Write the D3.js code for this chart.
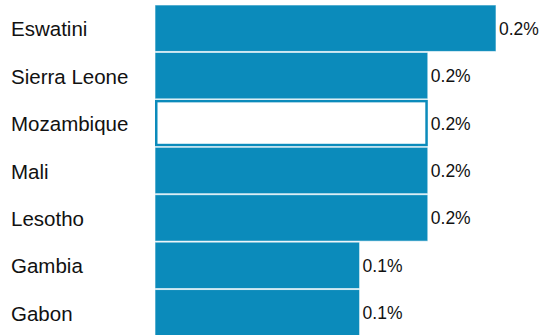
<!DOCTYPE html>
<html>
<head>
<meta charset="utf-8">
<script src="https://cdn.jsdelivr.net/npm/d3@7"></script>
<style>
  html, body { margin: 0; padding: 0; background: #fff; }
  svg { display: block; }
</style>
</head>
<body>
<svg id="chart" width="542" height="335"></svg>
<script>
const categories = ["Eswatini", "Sierra Leone", "Mozambique", "Mali", "Lesotho", "Gambia", "Gabon"];
const values = [0.25, 0.2, 0.2, 0.2, 0.2, 0.15, 0.15];
const valueLabels = ["0.2%", "0.2%", "0.2%", "0.2%", "0.2%", "0.1%", "0.1%"];
const highlighted = ["Mozambique"];

const W = 542, H = 335;
const svg = d3.select("#chart");
const blue = "#0b8bbb";

const x = d3.scaleLinear().domain([0, 0.25]).range([155, 496]);
const y = d3.scaleBand().domain(categories).range([5, 336]).paddingInner(0.021).paddingOuter(0);

const rows = categories.map((c, i) => ({ c, v: values[i], lab: valueLabels[i], hi: highlighted.includes(c) }));

const g = svg.append("g");

g.selectAll("rect.bar").data(rows).join("rect")
  .attr("class", "bar")
  .attr("x", d => d.hi ? x(0) + 1.25 : x(0))
  .attr("y", d => d.hi ? y(d.c) + 1.25 : y(d.c))
  .attr("width", d => d.hi ? x(d.v) - x(0) - 2.5 : x(d.v) - x(0))
  .attr("height", d => d.hi ? y.bandwidth() - 2.5 : y.bandwidth())
  .attr("fill", d => d.hi ? "#ffffff" : blue)
  .attr("stroke", d => d.hi ? blue : "rgba(255,255,255,0.6)")
  .attr("stroke-width", d => d.hi ? 2.5 : 1);

g.selectAll("text.cat").data(rows).join("text")
  .attr("class", "cat")
  .attr("x", 11)
  .attr("y", d => y(d.c) + y.bandwidth() / 2 + 0.5)
  .attr("dominant-baseline", "central")
  .attr("font-family", "'Liberation Sans', Arial, sans-serif")
  .attr("font-size", 20.5)
  .attr("fill", "#111")
  .text(d => d.c);

g.selectAll("text.val").data(rows).join("text")
  .attr("class", "val")
  .attr("x", d => x(d.v) + 3)
  .attr("y", d => y(d.c) + y.bandwidth() / 2 + 0.5)
  .attr("dominant-baseline", "central")
  .attr("font-family", "'Liberation Sans', Arial, sans-serif")
  .attr("font-size", 17.5)
  .attr("fill", "#111")
  .text(d => d.lab);
</script>
</body>
</html>
